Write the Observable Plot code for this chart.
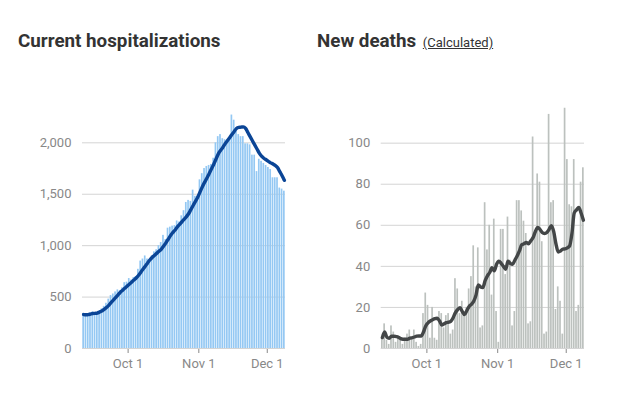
<!DOCTYPE html>
<html>
<head>
<meta charset="utf-8">
<script src="https://cdn.jsdelivr.net/npm/d3@7"></script>
<script src="https://cdn.jsdelivr.net/npm/@observablehq/plot@0.6"></script>
<style>
  body { margin: 0; background: #fff; font-family: Roboto, sans-serif; }
  #wrap { position: relative; width: 638px; height: 399px; overflow: hidden; }
  .panel { position: absolute; top: 0; width: 300px; height: 399px; }
  .title { position: absolute; top: 32px; font-size: 18.8px; line-height: 19px; font-weight: 700; color: #333; white-space: nowrap; }
  .title .sub { font-size: 13px; font-weight: 400; text-decoration: underline; margin-left: 2px; }
  .chart { position: absolute; top: 90px; left: 0; }
</style>
</head>
<body>
<div id="wrap">
  <div class="panel" id="left" style="left:0">
    <div class="title" style="left:18px">Current hospitalizations</div>
    <div class="chart" id="c1"></div>
  </div>
  <div class="panel" id="right" style="left:300px">
    <div class="title" style="left:17px">New deaths <span class="sub">(Calculated)</span></div>
    <div class="chart" id="c2"></div>
  </div>
</div>
<script>
// first day of the series: Sep 11 (2020)
const startDate = "2020-09-11";

// Current hospitalizations (daily bars), Sep 11 .. Dec 8
const hospitalized = [
  340, 335, 340, 345, 355, 350, 350, 365, 385, 410,
  440, 480, 515, 530, 550, 570, 560, 590, 640, 645,
  680, 665, 690, 700, 770, 850, 870, 900, 870, 850,
  900, 940, 960, 1000, 1030, 1100, 1060, 1170, 1180, 1190,
  1195, 1240, 1230, 1290, 1340, 1420, 1440, 1430, 1540, 1480,
  1480, 1640, 1700, 1750, 1770, 1780, 1790, 1850, 2000, 2060,
  2080, 2040, 2030, 2020, 2020, 2270, 2220, 2110, 2080, 2060,
  2060, 1990, 1990, 1980, 1880, 1880, 1720, 1840, 1820, 1800,
  1780, 1760, 1740, 1660, 1660, 1660, 1560, 1550, 1530
];

// Hospitalizations trend line (7-day average, as drawn)
const hospitalizedAvg = [
  330, 328, 330, 335, 340, 342, 345, 355, 365, 380,
  398, 420, 445, 470, 495, 520, 545, 565, 585, 605,
  625, 645, 665, 685, 710, 740, 770, 800, 830, 860,
  885, 905, 925, 945, 965, 995, 1025, 1060, 1095, 1125,
  1150, 1180, 1205, 1230, 1255, 1280, 1310, 1350, 1390, 1430,
  1470, 1520, 1570, 1615, 1655, 1700, 1745, 1790, 1840, 1890,
  1925, 1955, 1990, 2020, 2050, 2080, 2110, 2140, 2150, 2152,
  2155, 2140, 2100, 2060, 2020, 1980, 1940, 1900, 1870, 1850,
  1835, 1820, 1805, 1795, 1780, 1760, 1720, 1680, 1635
];

// New deaths (daily bars)
const deaths = [
  5, 12, 4, 2, 11, 8, 3, 6, 4, 2,
  5, 7, 9, 4, 9, 3, 1, 2, 17, 27,
  21, 5, 20, 5, 4, 18, 17, 10, 16, 17,
  7, 9, 34, 29, 17, 23, 16, 20, 29, 35,
  50, 30, 49, 10, 11, 71, 48, 60, 26, 63,
  18, 3, 58, 58, 36, 64, 43, 11, 18, 72,
  72, 67, 62, 56, 12, 13, 103, 55, 85, 81,
  52, 7, 8, 114, 71, 72, 19, 30, 23, 7,
  117, 92, 70, 69, 92, 18, 21, 81, 88
];

// New deaths trend line (7-day average, as drawn)
const deathsAvg = [
  5.3, 8, 5.5, 5, 6, 6, 5.8, 5.5, 4.8, 4.5,
  4.5, 4.5, 5, 5.2, 5.6, 6, 6.1, 6.1, 8, 11,
  12.5, 13.4, 14, 14.5, 14.7, 13.5, 11.4, 12, 12.6, 12.8,
  13.3, 15, 17.5, 19, 19.9, 18, 16.5, 18.5, 20.5, 21.5,
  23, 26, 31, 30, 29.7, 33, 35.4, 37, 39.4, 37.8,
  41, 42.5, 41.5, 40, 38.6, 42.5, 41.5, 41, 43, 45,
  47.5, 50.5, 51, 51.6, 51, 52.5, 54, 57, 58.9, 58,
  56.5, 56, 56.5, 58, 59.8, 57, 51, 47, 47.5, 48.4,
  48.5, 49, 50, 56, 66, 67.5, 68.7, 66, 62.5
];

const xTicks = ["2020-10-01", "2020-11-01", "2020-12-01"];
const hospTicks = [0, 500, 1000, 1500, 2000];
const deathTicks = [0, 20, 40, 60, 80, 100];

const day0 = new Date(startDate + "T00:00:00Z");
const dayAt = i => d3.utcDay.offset(day0, i);
const toRows = (vals, avg) => vals.map((v, i) => ({date: dayAt(i), mid: d3.utcHour.offset(dayAt(i), 12), value: v, avg: avg[i]}));
const xDomain = [day0, dayAt(hospitalized.length)];
const fmt = d3.utcFormat("%b %-d");

function panel(rows, opts) {
  return Plot.plot({
    width: 300,
    height: 300,
    marginTop: 12,
    marginBottom: 42,
    marginLeft: opts.ml,
    marginRight: opts.mr,
    style: {fontFamily: "Roboto, sans-serif", fontSize: "13px", color: "#888888", background: "transparent"},
    x: {type: "utc", domain: xDomain, ticks: xTicks.map(s => new Date(s + "T00:00:00Z")), tickFormat: fmt, tickSize: 5, tickPadding: 5, label: null},
    y: {domain: opts.yDomain, ticks: opts.yTicks, tickSize: 0, tickPadding: 11, tickFormat: d3.format(","), label: null},
    marks: [
      Plot.gridY(opts.yTicks.filter(t => t > 0), {stroke: "#d4d4d4", strokeOpacity: 1}),
      Plot.rectY(rows, {x1: "date", x2: d => d3.utcDay.offset(d.date, 1), y: "value", fill: opts.barColor, insetLeft: 0.3, insetRight: 0.3}),
      Plot.ruleY([0], {stroke: "#d4d4d4"}),
      Plot.lineY(rows, {x: "mid", y: "avg", stroke: opts.lineColor, strokeWidth: 3.4, curve: "monotone-x"})
    ]
  });
}

document.getElementById("c1").appendChild(panel(toRows(hospitalized, hospitalizedAvg), {
  ml: 82, mr: 15, yDomain: [0, 2392], yTicks: hospTicks, barColor: "#94c8f3", lineColor: "#0b4596"
}));
document.getElementById("c2").appendChild(panel(toRows(deaths, deathsAvg), {
  ml: 80.7, mr: 16, yDomain: [0, 119.8], yTicks: deathTicks, barColor: "#bcc1be", lineColor: "#434647"
}));
</script>
</body>
</html>
